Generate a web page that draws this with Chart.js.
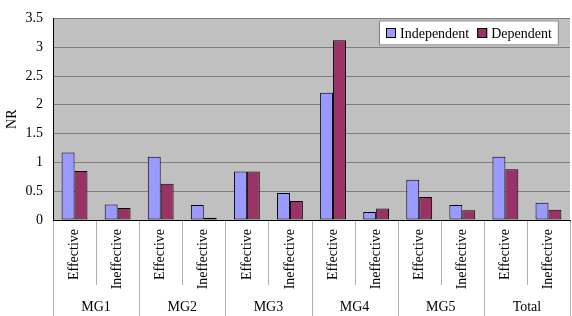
<!DOCTYPE html>
<html>
<head>
<meta charset="utf-8">
<script src="https://cdn.jsdelivr.net/npm/chart.js@4/dist/chart.umd.min.js"></script>
<style>
html,body{margin:0;padding:0;background:#fff;}
#wrap{width:572px;height:316px;}
</style>
</head>
<body>
<div id="wrap"><canvas id="c" width="572" height="316"></canvas></div>
<script>
const categories = ['Effective','Ineffective','Effective','Ineffective','Effective','Ineffective','Effective','Ineffective','Effective','Ineffective','Effective','Ineffective'];
const groups = ['MG1','MG2','MG3','MG4','MG5','Total'];
const independent = [1.17,0.27,1.10,0.26,0.84,0.47,2.21,0.14,0.70,0.26,1.10,0.30];
const dependent = [0.85,0.21,0.63,0.04,0.84,0.33,3.12,0.20,0.40,0.17,0.88,0.18];
const yTicks = [0,0.5,1,1.5,2,2.5,3,3.5];
const seriesNames = ['Independent','Dependent'];

const FONT = '"Liberation Serif", "Times New Roman", serif';
Chart.defaults.font.family = FONT;
Chart.defaults.font.size = 14;
Chart.defaults.color = '#000';

const bgPlugin = {
  id: 'bg',
  beforeDraw(chart) {
    const {ctx, chartArea: a} = chart;
    ctx.save();
    ctx.fillStyle = '#c0c0c0';
    ctx.fillRect(a.left, a.top, a.right - a.left, a.bottom - a.top);
    ctx.restore();
  }
};

const sepPlugin = {
  id: 'sep',
  afterDraw(chart) {
    const {ctx} = chart;
    const x = chart.scales.x;
    const step = x.getPixelForValue(1) - x.getPixelForValue(0);
    ctx.save();
    ctx.strokeStyle = '#b0b0b0';
    ctx.lineWidth = 1;
    for (let i = 0; i <= categories.length; i++) {
      const px = Math.round(x.getPixelForValue(0) - step / 2 + i * step) + 0.5;
      const end = (i % 2 === 0) ? chart.height : x.bottom - 5;
      ctx.beginPath();
      ctx.moveTo(px, x.top + 1);
      ctx.lineTo(px, end);
      ctx.stroke();
    }
    ctx.restore();
  }
};

const legendPlugin = {
  id: 'customLegend',
  afterDraw(chart) {
    const {ctx, chartArea: a} = chart;
    ctx.save();
    ctx.font = '14px ' + FONT;
    const pad = 7, box = 10, gap = 4, between = 8;
    const ds = chart.data.datasets;
    let w = pad;
    ds.forEach((d, i) => {
      w += box + gap + ctx.measureText(d.label).width + (i < ds.length - 1 ? between : pad);
    });
    const h = 25;
    const right = a.right - 11;
    const left = Math.round(right - w);
    const top = a.top + 2;
    ctx.fillStyle = '#fff';
    ctx.fillRect(left, top, w, h);
    ctx.strokeStyle = '#808080';
    ctx.lineWidth = 1;
    ctx.strokeRect(left + 0.5, top + 0.5, w - 1, h - 1);
    let cx = left + pad;
    const cy = top + h / 2;
    ds.forEach((d, i) => {
      ctx.fillStyle = d.backgroundColor;
      ctx.fillRect(cx, Math.round(cy - box / 2), box, box);
      ctx.strokeStyle = '#000';
      ctx.strokeRect(cx + 0.5, Math.round(cy - box / 2) + 0.5, box - 1, box - 1);
      cx += box + gap;
      ctx.fillStyle = '#000';
      ctx.textBaseline = 'middle';
      ctx.textAlign = 'left';
      ctx.fillText(d.label, cx, cy + 1);
      cx += ctx.measureText(d.label).width + between;
    });
    ctx.restore();
  }
};

new Chart(document.getElementById('c'), {
  type: 'bar',
  data: {
    labels: categories,
    datasets: [
      {label: seriesNames[0], data: independent, backgroundColor: '#9999ff', borderColor: '#000', borderWidth: 1, borderSkipped: false, categoryPercentage: 0.6, barPercentage: 1, xAxisID: 'x'},
      {label: seriesNames[1], data: dependent, backgroundColor: '#993366', borderColor: '#000', borderWidth: 1, borderSkipped: false, categoryPercentage: 0.6, barPercentage: 1, xAxisID: 'x'}
    ]
  },
  options: {
    responsive: false,
    animation: false,
    devicePixelRatio: 1,
    layout: {padding: {top: 7, right: 2, bottom: 0, left: 0}},
    plugins: {legend: {display: false}, tooltip: {enabled: false}},
    scales: {
      x: {
        type: 'category',
        position: 'bottom',
        weight: 0,
        offset: true,
        grid: {display: false},
        border: {display: true, color: '#000'},
        ticks: {minRotation: 90, maxRotation: 90, padding: 1, autoSkip: false, font: {size: 14}},
        afterFit(s) { s.height = 70; }
      },
      x2: {
        type: 'category',
        position: 'bottom',
        weight: 1,
        labels: groups,
        offset: true,
        grid: {display: false},
        border: {display: false},
        ticks: {padding: 1, autoSkip: false, maxRotation: 0, font: {size: 14}},
        afterFit(s) { s.height = 26; }
      },
      y: {
        min: 0,
        max: 3.5,
        afterBuildTicks(s) { s.ticks = yTicks.map(v => ({value: v})); },
        grid: {color: '#808080', drawTicks: false},
        border: {display: true, color: '#000'},
        ticks: {padding: 10, font: {size: 14}, callback: v => String(v)},
        title: {display: true, text: 'NR', font: {size: 14}},
        afterFit(s) { s.width = 53; }
      }
    }
  },
  plugins: [bgPlugin, sepPlugin, legendPlugin]
});
</script>
</body>
</html>
